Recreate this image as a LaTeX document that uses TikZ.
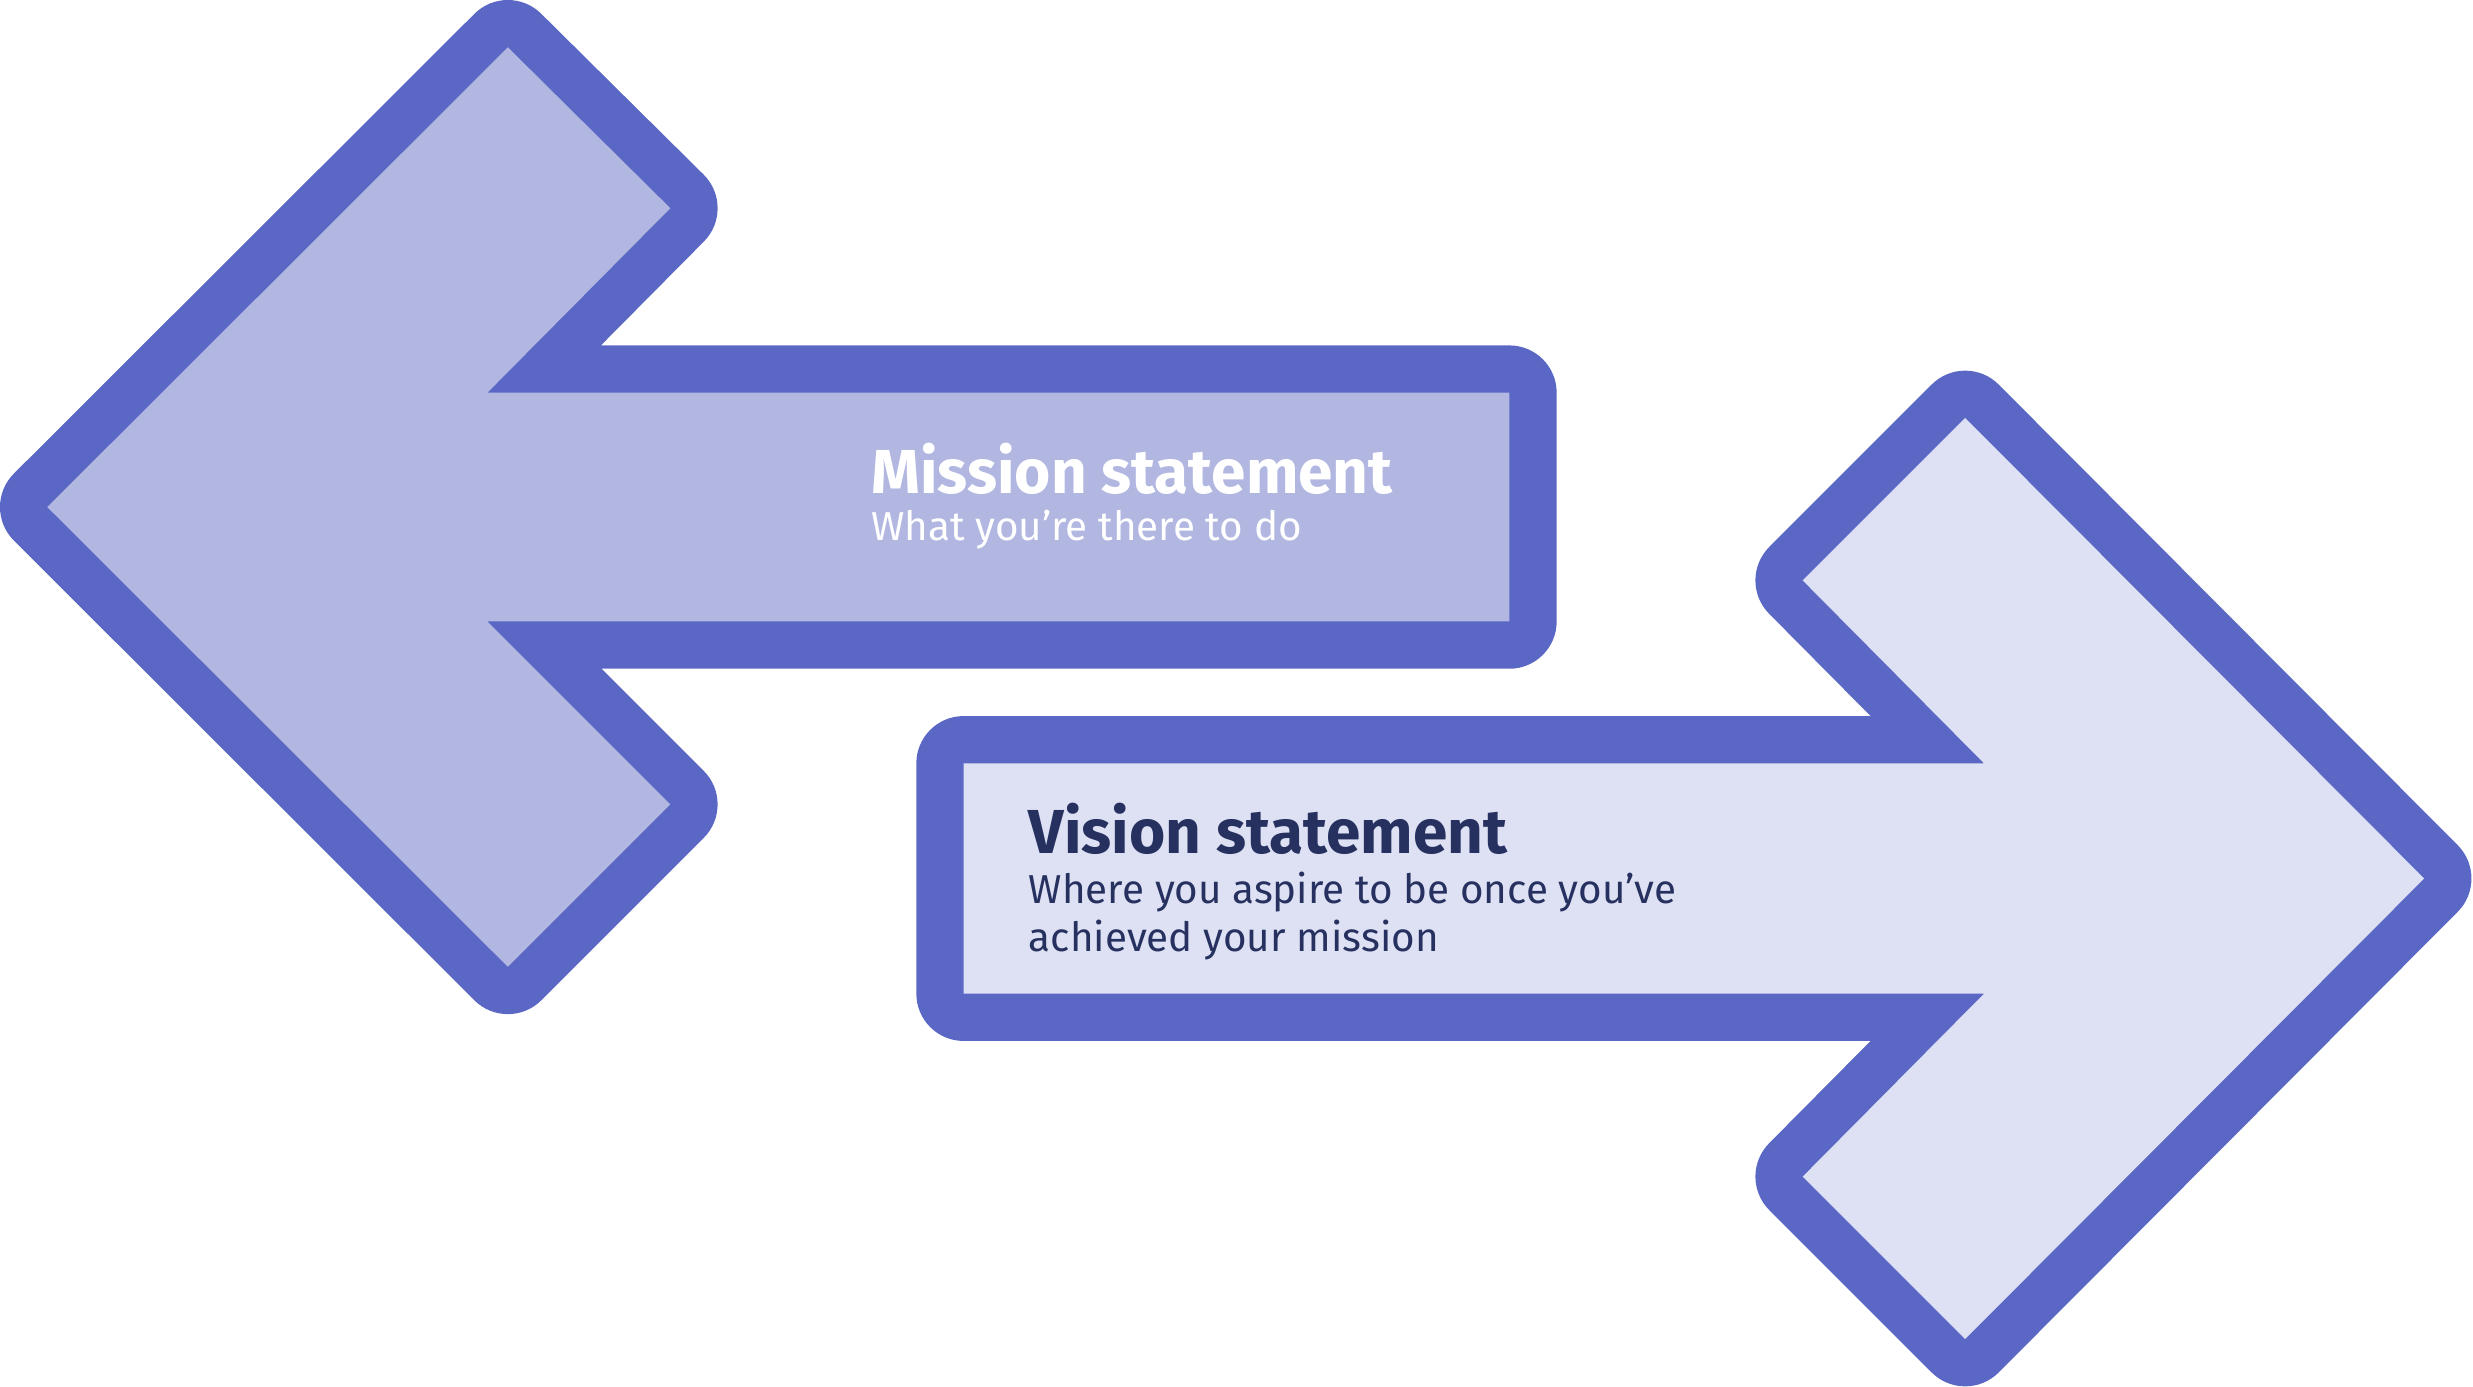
\documentclass[tikz,border=0pt]{standalone}
\usepackage{fontspec}
\setmainfont{Fira Sans}
\definecolor{rimblue}{HTML}{5A67C4}
\definecolor{missionfill}{HTML}{B1B7E1}
\definecolor{visionfill}{HTML}{DEE1F4}
\definecolor{visionink}{HTML}{263160}
\tikzset{
  rim/.style={draw=rimblue, line width=30pt, line join=round},
  headtext/.style={anchor=base west, inner sep=0pt, font=\fontsize{19.7pt}{22pt}\selectfont\bfseries},
  subtext/.style={anchor=base west, inner sep=0pt, align=left, font=\fontsize{12.8pt}{15pt}\selectfont}
}
\begin{document}
\begin{tikzpicture}[x=0.5pt,y=-0.5pt]
\useasboundingbox (0,0) rectangle (1568,879.4);
% mission arrow, pointing left
\draw[rim] (30,321.5) -- (322,30) -- (425,132) -- (309,249) -- (957,249)
  -- (957,394) -- (309,394) -- (425,510) -- (322,613) -- cycle;
\fill[missionfill] (30,321.5) -- (322,30) -- (425,132) -- (309,249) -- (957,249)
  -- (957,394) -- (309,394) -- (425,510) -- (322,613) -- cycle;
% vision arrow, pointing right
\draw[rim] (611,484) -- (1258,484) -- (1143,368) -- (1246,265) -- (1537,557)
  -- (1246,849) -- (1143,746) -- (1258,630) -- (611,630) -- cycle;
\fill[visionfill] (611,484) -- (1258,484) -- (1143,368) -- (1246,265) -- (1537,557)
  -- (1246,849) -- (1143,746) -- (1258,630) -- (611,630) -- cycle;
% texts
\node[headtext, text=white] (missionhead) at (552,313) {Mission statement};
\node[subtext, text=white] (missionsub) at (552,343) {What you’re there to do};
\node[headtext, text=visionink] (visionhead) at (652,541) {Vision statement};
\node[subtext, text=visionink] (visionsub) at (652,603) {Where you aspire to be once you’ve\\achieved your mission};
\end{tikzpicture}
\end{document}
